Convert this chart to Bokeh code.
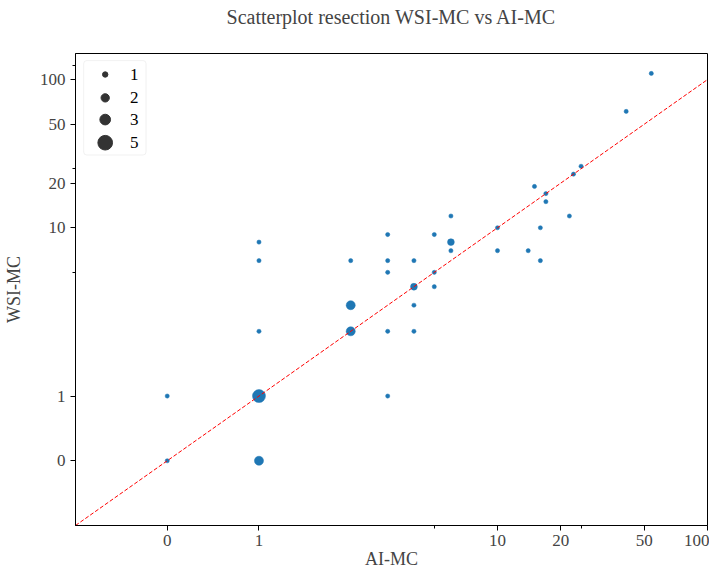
import math
from bokeh.plotting import figure
from bokeh.models import (ColumnDataSource, Range1d, FixedTicker, CustomJSTickFormatter,
                          BoxAnnotation)
from bokeh.core.properties import value
from bokeh.embed import file_html
from bokeh.resources import INLINE

# ---- data ----
ai_mc = [0, 0, 1, 1, 1, 1, 1,
         2, 2, 2,
         3, 3, 3, 3, 3,
         4, 4, 4, 4,
         5, 5, 5,
         6, 6, 6,
         10, 10, 14, 15, 16, 16, 17, 17, 22, 23, 25, 41, 54]
wsi_mc = [0, 1, 1, 0, 8, 6, 2,
          6, 3, 2,
          9, 6, 5, 2, 1,
          6, 4, 3, 2,
          9, 5, 4,
          12, 8, 7,
          10, 7, 7, 19, 10, 6, 17, 15, 12, 23, 26, 61, 110]
counts = [1, 1, 5, 3, 1, 1, 1,
          1, 3, 3,
          1, 1, 1, 1, 1,
          1, 2, 1, 1,
          1, 1, 1,
          1, 2, 1,
          1, 1, 1, 1, 1, 1, 1, 1, 1, 1, 1, 1, 1]

tick_values = [0, 1, 10, 20, 50, 100]
minor_values = [5, 25, 125]
legend_counts = [1, 2, 3, 5]
axis_min = -1
x_max = 100
y_max = 150
title_text = "Scatterplot resection WSI-MC vs AI-MC"
x_label = "AI-MC"
y_label = "WSI-MC"

# symmetric-log transform (base 5, linthresh 2, linscale 1)
BASE, LINTHRESH, LINSCALE = 5.0, 2.0, 1.0
L_ADJ = LINSCALE / (1.0 - 1.0 / BASE)


def T(v):
    a = abs(v)
    if a <= LINTHRESH:
        return v * L_ADJ
    return math.copysign(LINTHRESH * (L_ADJ + math.log(a / LINTHRESH, BASE)), v)


FONT = "Liberation Serif"
BLUE = "#1f77b4"

x_lo, x_hi = T(axis_min), T(x_max)
y_lo, y_hi = T(axis_min), T(y_max)

p = figure(width=709, height=571, output_backend="svg", toolbar_location=None,
           x_range=Range1d(x_lo, x_hi), y_range=Range1d(y_lo, y_hi),
           min_border_left=75, min_border_right=2, min_border_top=53, min_border_bottom=46,
           title=title_text + "\n ")

p.title.text_font = FONT
p.title.text_font_size = "20px"
p.title.text_font_style = "normal"
p.title.text_line_height = 1.1
p.title.align = "center"
p.title.vertical_align = "top"
p.title.standoff = 0

p.xgrid.visible = False
p.ygrid.visible = False
p.outline_line_color = "black"
p.outline_line_width = 1
p.outline_line_alpha = 1
p.background_fill_color = "white"
p.border_fill_color = "white"

fmt = CustomJSTickFormatter(code="""
const a = Math.abs(tick);
let v;
if (a <= 2.5) { v = tick / 1.25; }
else { v = Math.sign(tick) * 2 * Math.pow(5, a / 2 - 1.25); }
return String(Math.round(v) + 0);
""")

for ax, lab in ((p.xaxis, x_label), (p.yaxis, y_label)):
    ax.ticker = FixedTicker(ticks=[T(v) for v in tick_values],
                            minor_ticks=[T(v) for v in minor_values])
    ax.formatter = fmt
    ax.axis_label = lab
    ax.axis_label_text_font = FONT
    ax.axis_label_text_font_size = "18px"
    ax.axis_label_text_font_style = "normal"
    ax.major_label_text_font = FONT
    ax.major_label_text_font_size = "17px"
    ax.axis_line_color = "black"
    ax.major_tick_in = 0
    ax.major_tick_out = 5
    ax.minor_tick_in = 0
    ax.minor_tick_out = 3
    ax.major_tick_line_color = "black"
    ax.minor_tick_line_color = "black"

p.xaxis.major_label_standoff = 4
p.xaxis.axis_label_standoff = 0
p.yaxis.major_label_standoff = 5
p.yaxis.axis_label_standoff = 13
p.yaxis.major_label_orientation = "horizontal"

src = ColumnDataSource(dict(
    x=[T(v) for v in ai_mc],
    y=[T(v) for v in wsi_mc],
    s=[4.2 * c ** 0.7 for c in counts],
))
p.scatter("x", "y", size="s", source=src, color=BLUE, line_color=BLUE, line_width=0.5)

# identity line
p.line([T(axis_min), T(x_max)], [T(axis_min), T(x_max)], line_color="red",
       line_width=1, line_dash="4 2")


# ---- legend drawn in frame fractions ----
def fx(f):
    return x_lo + f * (x_hi - x_lo)


def fy(f):
    return y_lo + f * (y_hi - y_lo)


box = BoxAnnotation(left=fx(0.013), right=fx(0.1116), top=fy(0.985), bottom=fy(0.785),
                    fill_color="white", fill_alpha=0.8, line_color="#d0d0d0",
                    line_width=1, border_radius=3, level="underlay")
p.add_layout(box)

leg_fy = [0.9555, 0.906, 0.860, 0.811]
p.scatter([fx(0.047)] * 4, [fy(f) for f in leg_fy],
          size=[5.4 * c ** 0.62 for c in legend_counts], color="#333333")
p.text([fx(0.093)] * 4, [fy(f) for f in leg_fy], text=[str(c) for c in legend_counts],
       text_font=value(FONT), text_font_size="17px", text_align="center",
       text_baseline="middle", text_color="black")

open("out.html", "w").write(file_html(p, INLINE))
